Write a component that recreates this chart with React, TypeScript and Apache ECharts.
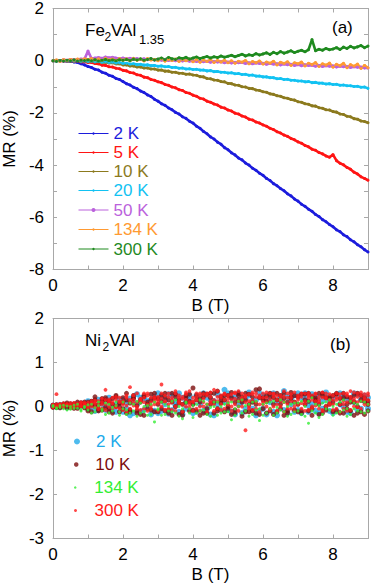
import React, { useEffect, useRef } from "react";
import * as echarts from "echarts";

const FONT = "'Liberation Sans', Arial, sans-serif";
const AXIS_C = "#a8a8a8";

const fieldB = [
  0, 0.1, 0.2, 0.3, 0.4, 0.5, 0.6, 0.7, 0.8, 0.9,
  1, 1.1, 1.2, 1.3, 1.4, 1.5, 1.6, 1.7, 1.8, 1.9,
  2, 2.1, 2.2, 2.3, 2.4, 2.5, 2.6, 2.7, 2.8, 2.9,
  3, 3.1, 3.2, 3.3, 3.4, 3.5, 3.6, 3.7, 3.8, 3.9,
  4, 4.1, 4.2, 4.3, 4.4, 4.5, 4.6, 4.7, 4.8, 4.9,
  5, 5.1, 5.2, 5.3, 5.4, 5.5, 5.6, 5.7, 5.8, 5.9,
  6, 6.1, 6.2, 6.3, 6.4, 6.5, 6.6, 6.7, 6.8, 6.9,
  7, 7.1, 7.2, 7.3, 7.4, 7.5, 7.6, 7.7, 7.8, 7.9,
  8, 8.1, 8.2, 8.3, 8.4, 8.5, 8.6, 8.7, 8.8, 8.9,
  9,
];

// Panel (a): Fe2VAl1.35, MR (%)
const fe2K = [
  0, -0.01, 0.01, -0.01, -0.02, -0.02, -0.05, -0.07, -0.12, -0.16,
  -0.22, -0.26, -0.33, -0.36, -0.44, -0.48, -0.56, -0.6, -0.68, -0.72,
  -0.8, -0.88, -0.93, -1.02, -1.07, -1.16, -1.22, -1.31, -1.37, -1.48,
  -1.55, -1.65, -1.71, -1.81, -1.88, -1.98, -2.04, -2.15, -2.21, -2.32,
  -2.39, -2.51, -2.59, -2.71, -2.8, -2.92, -3.0, -3.12, -3.2, -3.33,
  -3.41, -3.53, -3.61, -3.73, -3.8, -3.92, -4.0, -4.12, -4.2, -4.31,
  -4.39, -4.51, -4.59, -4.71, -4.79, -4.9, -4.98, -5.1, -5.18, -5.3,
  -5.38, -5.5, -5.58, -5.69, -5.77, -5.89, -5.97, -6.09, -6.17, -6.28,
  -6.36, -6.48, -6.55, -6.67, -6.74, -6.86, -6.94, -7.05, -7.13, -7.24,
  -7.33,
];
const fe5K = [
  0, 0.01, -0.01, 0, -0.02, -0.01, -0.03, -0.02, -0.05, -0.04,
  -0.07, -0.07, -0.11, -0.12, -0.17, -0.18, -0.23, -0.24, -0.29, -0.31,
  -0.37, -0.39, -0.45, -0.47, -0.54, -0.56, -0.63, -0.65, -0.72, -0.75,
  -0.81, -0.84, -0.91, -0.94, -1.01, -1.04, -1.11, -1.14, -1.22, -1.25,
  -1.32, -1.36, -1.44, -1.47, -1.55, -1.59, -1.66, -1.7, -1.78, -1.81,
  -1.89, -1.93, -2.01, -2.04, -2.12, -2.16, -2.24, -2.27, -2.35, -2.39,
  -2.46, -2.51, -2.59, -2.64, -2.72, -2.77, -2.85, -2.9, -2.98, -3.03,
  -3.11, -3.16, -3.25, -3.3, -3.39, -3.43, -3.52, -3.57, -3.65, -3.7,
  -3.6, -3.83, -3.93, -3.99, -4.09, -4.16, -4.27, -4.34, -4.45, -4.51,
  -4.58,
];
const fe10K = [
  0, 0.01, -0.01, 0.01, -0.01, 0, -0.02, 0, -0.03, -0.01,
  -0.04, -0.02, -0.05, -0.04, -0.07, -0.06, -0.09, -0.08, -0.12, -0.12,
  -0.16, -0.16, -0.2, -0.2, -0.24, -0.24, -0.28, -0.28, -0.32, -0.32,
  -0.36, -0.36, -0.4, -0.4, -0.44, -0.44, -0.48, -0.48, -0.52, -0.51,
  -0.55, -0.56, -0.61, -0.62, -0.68, -0.69, -0.74, -0.75, -0.8, -0.81,
  -0.87, -0.88, -0.93, -0.94, -1.0, -1.01, -1.06, -1.07, -1.12, -1.14,
  -1.19, -1.21, -1.27, -1.29, -1.34, -1.36, -1.42, -1.44, -1.49, -1.51,
  -1.57, -1.59, -1.65, -1.67, -1.73, -1.74, -1.8, -1.82, -1.88, -1.89,
  -1.95, -1.97, -2.04, -2.06, -2.13, -2.15, -2.22, -2.24, -2.31, -2.33,
  -2.38,
];
const fe20K = [
  0, 0.01, 0, 0.01, -0.01, 0, -0.01, 0, -0.02, -0.01,
  -0.03, -0.02, -0.04, -0.03, -0.06, -0.04, -0.07, -0.06, -0.09, -0.08,
  -0.11, -0.1, -0.13, -0.12, -0.15, -0.14, -0.17, -0.16, -0.19, -0.18,
  -0.21, -0.2, -0.23, -0.22, -0.26, -0.25, -0.29, -0.28, -0.32, -0.31,
  -0.34, -0.33, -0.36, -0.36, -0.39, -0.38, -0.42, -0.41, -0.44, -0.44,
  -0.47, -0.46, -0.5, -0.49, -0.53, -0.52, -0.56, -0.55, -0.59, -0.59,
  -0.62, -0.62, -0.65, -0.65, -0.69, -0.68, -0.72, -0.71, -0.75, -0.75,
  -0.78, -0.78, -0.81, -0.8, -0.84, -0.83, -0.86, -0.86, -0.89, -0.88,
  -0.91, -0.9, -0.94, -0.93, -0.96, -0.96, -0.99, -0.98, -1.02, -1.01,
  -1.06,
];
const fe50K = [
  0, 0.02, 0.01, 0.03, 0.02, 0.04, 0.03, 0.05, 0.06, 0.06,
  0.37, 0.08, 0.1, 0.12, 0.09, 0.14, 0.11, 0.13, 0.1, 0.08,
  0.1, 0.07, 0.09, 0.06, 0.08, 0.05, 0.07, 0.04, 0.06, 0.03,
  0.05, 0.02, 0.04, 0.01, 0.03, 0, 0.02, -0.01, 0.01, -0.02,
  0, -0.03, -0.01, -0.04, -0.02, -0.06, -0.03, -0.05, -0.04, -0.08,
  -0.05, -0.09, -0.06, -0.08, -0.07, -0.11, -0.08, -0.12, -0.09, -0.11,
  -0.1, -0.14, -0.11, -0.13, -0.12, -0.16, -0.13, -0.15, -0.14, -0.18,
  -0.15, -0.19, -0.16, -0.18, -0.17, -0.21, -0.18, -0.22, -0.19, -0.21,
  -0.2, -0.24, -0.21, -0.23, -0.22, -0.26, -0.23, -0.25, -0.24, -0.28,
  -0.28,
];
const fe134K = [
  0, 0.03, -0.02, 0.04, 0.01, 0.05, 0.02, 0.06, 0.03, 0.07,
  0.04, 0.08, 0.03, 0.07, 0.02, 0.09, 0.04, 0.06, 0.01, 0.08,
  0.03, 0.07, 0, 0.09, 0.02, 0.06, -0.01, 0.08, 0.03, 0.05,
  0, 0.07, -0.02, 0.05, 0.01, 0.06, -0.03, 0.04, 0, 0.05,
  -0.04, 0.03, -0.06, 0.02, -0.03, 0.04, -0.07, 0.01, -0.05, 0.02,
  -0.08, 0, -0.1, -0.02, -0.06, 0.01, -0.12, -0.03, -0.08, -0.01,
  -0.13, -0.05, -0.1, -0.02, -0.16, -0.06, -0.11, -0.04, -0.18, -0.08,
  -0.12, -0.05, -0.2, -0.1, -0.15, -0.07, -0.22, -0.12, -0.17, -0.09,
  -0.25, -0.14, -0.19, -0.1, -0.27, -0.15, -0.21, -0.13, -0.3, -0.18,
  -0.27,
];
const fe300K = [
  0, -0.02, 0.01, -0.01, 0.02, 0, 0.03, -0.01, 0.02, 0.01,
  0.03, 0, 0.04, -0.01, 0.02, 0.05, 0.01, 0.03, 0, 0.04,
  0.02, 0.05, 0.01, 0.06, 0.03, 0.07, 0.02, 0.05, 0.08, 0.03,
  0.06, 0.1, 0.04, 0.12, 0.07, 0.05, 0.11, 0.08, 0.13, 0.06,
  0.1, 0.14, 0.08, 0.12, 0.16, 0.1, 0.15, 0.12, 0.18, 0.13,
  0.17, 0.21, 0.15, 0.2, 0.25, 0.18, 0.23, 0.2, 0.27, 0.22,
  0.26, 0.3, 0.24, 0.32, 0.27, 0.35, 0.29, 0.33, 0.38, 0.31,
  0.36, 0.4, 0.34, 0.42, 0.81, 0.38, 0.44, 0.4, 0.47, 0.42,
  0.45, 0.5, 0.43, 0.52, 0.47, 0.55, 0.49, 0.53, 0.58, 0.5,
  0.56,
];

// Panel (b): Ni2VAl, MR (%) — several sweeps per temperature
const ni2Ka = [
  0, 0.02, -0.01, 0.03, 0.01, 0.04, 0, 0.05, 0.02, 0.06,
  -0.05, 0.08, 0.03, -0.08, 0.1, 0, 0.12, -0.1, 0.05, 0.15,
  -0.12, 0.08, 0.18, -0.15, 0.05, 0.2, -0.08, 0.12, -0.18, 0.22,
  0.3, -0.1, 0.15, -0.16, 0.25, 0.02, -0.12, 0.2, -0.05, 0.18,
  -0.15, 0.25, 0.05, -0.1, 0.2, -0.18, 0.12, 0.28, -0.08, 0.38,
  0.3, -0.12, 0.22, 0.05, -0.15, 0.18, 0.32, -0.05, 0.15, -0.1,
  0.25, -0.18, 0.1, 0.3, -0.2, 0.15, -0.08, 0.22, 0.05, -0.12,
  0.3, -0.15, 0.18, 0.02, 0.28, -0.1, 0.2, -0.05, 0.32, 0.12,
  -0.15, 0.25, 0.05, 0.22, -0.12, 0.18, 0.3, -0.08, 0.15, 0.25,
  0.2,
];
const ni2Kb = [
  0.02, -0.01, 0.04, 0.01, -0.02, 0.05, 0.02, -0.01, 0.07, 0.03,
  0.12, -0.02, -0.1, 0.15, 0.06, -0.08, 0.2, 0.03, -0.12, 0.08,
  0.15, -0.05, -0.2, 0.1, 0.28, -0.12, 0.18, 0.02, 0.15, -0.1,
  -0.15, 0.22, 0.05, 0.28, -0.08, 0.12, 0.3, -0.18, 0.1, 0.25,
  0.08, -0.12, 0.2, 0.3, -0.05, 0.15, -0.2, 0.05, 0.22, 0.1,
  -0.08, 0.2, -0.18, 0.3, 0.1, -0.05, 0.25, 0.12, -0.2, 0.3,
  -0.05, 0.15, 0.28, -0.12, 0.1, 0.22, 0.35, -0.15, 0.18, 0.25,
  -0.08, 0.2, 0.3, -0.12, 0.05, 0.25, -0.15, 0.12, 0.2, -0.1,
  0.2, -0.1, 0.3, 0, 0.15, -0.15, 0.1, 0.28, -0.05, 0.12,
  -0.05,
];
const ni10Ka = [
  0.01, -0.02, 0.03, 0, 0.05, -0.02, 0.06, 0.02, 0.08, -0.03,
  0.1, -0.12, 0.22, 0.05, -0.08, 0.15, -0.05, 0.18, 0, -0.12,
  0.2, -0.15, 0.08, 0.25, -0.1, 0.15, -0.2, 0.05, 0.28, -0.12,
  0.18, -0.05, 0.3, -0.15, 0.1, 0.22, -0.18, 0.05, 0.25, -0.1,
  0.42, 0.15, -0.2, 0.3, -0.05, 0.2, -0.15, 0.35, 0.08, -0.12,
  0.25, -0.18, 0.1, 0.3, -0.22, 0.15, 0.05, -0.1, 0.38, 0.4,
  0.2, -0.15, 0.3, 0.05, -0.12, 0.25, -0.2, 0.1, 0.32, -0.08,
  0.22, -0.15, 0.15, 0.3, -0.05, 0.2, -0.18, 0.25, 0, 0.18,
  -0.12, 0.28, 0.05, -0.15, 0.22, 0.1, -0.2, 0.3, 0.15, -0.18,
  0.05,
];
const ni10Kb = [
  -0.02, 0.04, 0, 0.06, -0.03, 0.05, 0.01, -0.04, 0.07, 0.1,
  -0.06, 0.12, 0.02, -0.1, 0.18, -0.02, 0.12, -0.15, 0.22, 0.08,
  -0.05, 0.15, -0.12, 0.2, 0.02, -0.18, 0.25, 0.1, -0.08, 0.2,
  0.05, 0.25, -0.1, 0.15, -0.2, 0.28, 0.08, -0.12, 0.2, 0.12,
  -0.08, 0.25, 0.1, -0.15, 0.28, 0.05, 0.3, -0.1, 0.22, 0.15,
  -0.05, 0.2, -0.15, 0.25, 0.1, 0.3, -0.12, 0.22, 0.05, -0.18,
  0.15, 0.25, -0.1, 0.2, 0.3, -0.05, 0.18, -0.15, 0.22, 0.1,
  -0.12, 0.28, 0.05, -0.1, 0.22, 0.12, 0.3, -0.15, 0.2, 0.05,
  0.25, -0.1, 0.18, 0.3, -0.05, 0.2, 0.1, -0.15, 0.25, 0.12,
  -0.1,
];
const ni10Kc = [
  0.03, 0, -0.03, 0.04, 0.08, 0, -0.04, 0.1, 0.02, 0.06,
  -0.1, 0.05, 0.15, -0.06, 0.1, 0.2, -0.12, 0.05, 0.25, 0,
  0.1, 0.3, -0.08, 0.18, -0.15, 0.1, 0.22, -0.05, 0.15, 0.3,
  -0.12, 0.12, 0.2, -0.08, 0.3, 0, 0.15, -0.2, 0.1, 0.28,
  0.05, -0.1, 0.18, 0.22, -0.15, 0.3, 0.1, -0.05, 0.15, 0.25,
  0, 0.32, -0.08, 0.15, 0.22, -0.12, 0.28, 0.1, -0.15, 0.2,
  -0.05, 0.12, 0.22, -0.18, 0.15, 0.05, 0.3, -0.1, 0.18, 0.25,
  0.05, -0.1, 0.28, 0.12, -0.2, 0.15, 0.05, 0.3, -0.08, 0.22,
  0.1, 0.3, -0.15, 0.2, 0.05, -0.1, 0.25, 0, -0.12, 0.2,
  0.12,
];
const ni134Ka = [
  0, -0.03, 0.02, -0.05, 0.01, -0.06, 0.03, -0.04, -0.07, 0,
  -0.08, 0.05, -0.12, 0.02, -0.1, 0.08, -0.15, -0.02, 0.1, -0.12,
  -0.05, -0.18, 0.08, -0.1, 0.12, -0.15, 0, -0.2, 0.05, -0.35,
  -0.08, 0.1, -0.18, 0, -0.12, 0.15, -0.22, -0.05, 0.08, -0.15,
  -0.25, 0.05, -0.1, 0.12, -0.18, -0.02, 0.1, -0.2, 0, -0.12,
  0.08, -0.3, -0.05, 0.12, -0.15, 0.02, -0.22, 0.1, -0.08, -0.32,
  0.05, -0.15, 0.1, -0.2, -0.02, 0.15, -0.12, 0, -0.18, 0.08,
  -0.1, 0.12, -0.22, -0.38, 0.2, -0.15, 0.02, -0.18, 0.1, -0.08,
  -0.2, 0.05, -0.12, 0.15, -0.05, -0.18, 0.08, -0.1, 0.12, -0.15,
  0.05,
];
const ni134Kb = [
  0.02, -0.05, -0.02, 0.03, -0.08, 0, -0.04, 0.05, -0.1, -0.02,
  0.04, -0.15, -0.03, 0.1, -0.06, -0.18, 0.05, -0.1, 0.02, -0.2,
  0.1, -0.08, -0.15, 0.05, -0.22, 0.08, -0.12, 0.02, -0.18, 0.1,
  -0.05, -0.2, 0.05, -0.1, 0.12, -0.15, 0, -0.28, 0.1, -0.05,
  0.02, -0.15, 0.15, -0.08, 0.05, -0.22, 0, 0.1, -0.15, 0.05,
  -0.12, 0.1, -0.2, 0, 0.15, -0.1, 0.05, -0.18, 0.12, -0.05,
  -0.2, 0.08, -0.05, 0.12, -0.15, -0.08, 0.1, -0.22, 0.05, -0.12,
  0.08, -0.18, 0, 0.12, -0.1, 0.05, -0.25, 0.08, -0.05, 0.15,
  0, -0.15, 0.1, -0.08, -0.22, 0.12, -0.05, 0.05, -0.12, 0.1,
  -0.1,
];
const ni300Ka = [
  0, 0.28, 0.02, -0.02, 0.05, 0, 0.04, 0.07, 0.02, 0.06,
  0.03, 0.08, -0.02, 0.12, 0.05, 0.38, 0, 0.1, 0.15, -0.05,
  0.12, 0.02, 0.44, 0.08, -0.05, 0.18, 0.1, -0.1, 0.2, 0.05,
  0.15, 0.5, -0.08, 0.22, 0.1, 0, 0.25, -0.12, 0.15, 0.05,
  0.2, -0.05, 0.3, 0.1, -0.12, 0.22, 0.05, 0.35, -0.08, 0.15,
  0.25, 0, 0.18, -0.1, 0.3, -0.54, 0.12, 0.28, -0.05, 0.2,
  0.1, 0.32, -0.08, 0.22, 0.05, 0.18, -0.12, 0.3, 0.12, 0,
  0.25, 0.08, -0.1, 0.3, 0.15, 0.02, 0.22, -0.08, 0.18, 0.28,
  0.05, 0.2, -0.12, 0.3, 0.1, 0.35, 0, 0.22, 0.32, 0.15,
  0.25,
];
const ni300Kb = [
  0.03, -0.01, 0.05, 0.02, 0.06, 0.03, 0, 0.05, 0.08, 0.03,
  0.09, 0, 0.1, 0.04, -0.05, 0.15, 0.08, 0.2, 0.02, 0.12,
  -0.08, 0.2, 0.1, 0.25, 0, 0.15, 0.3, 0.05, -0.05, 0.22,
  0.08, 0.3, 0.12, -0.05, 0.2, 0.35, 0.08, 0.18, 0.28, -0.02,
  0.12, 0.3, 0, 0.18, 0.25, 0.08, 0.38, 0.12, 0.2, -0.05,
  0.1, 0.28, 0.05, 0.35, 0.15, 0.22, 0, 0.32, 0.1, 0.25,
  0.05, 0.2, 0.3, 0, 0.25, 0.12, 0.35, -0.05, 0.2, 0.1,
  0.15, 0.3, 0.05, 0.2, -0.05, 0.28, 0.1, 0.32, 0, 0.15,
  0.25, -0.05, 0.2, 0.12, 0.3, -0.08, 0.18, 0.1, 0.25, 0.05,
  0.15,
];
const ni300Kc = [
  -0.02, 0.05, 0, 0.07, 0.03, -0.03, 0.08, 0.01, 0.1, 0.05,
  0, 0.12, 0.06, -0.06, 0.18, 0.05, 0.12, -0.05, 0.22, 0.1,
  0.05, -0.12, 0.15, 0.02, 0.3, 0.12, -0.05, 0.25, 0.1, 0.18,
  -0.1, 0.18, 0.25, 0.05, -0.08, 0.3, 0.12, 0.22, 0, 0.35,
  0.1, 0.22, -0.1, 0.28, 0.05, 0.32, 0.15, -0.05, 0.25, 0.3,
  0.05, 0.15, 0.32, 0, 0.2, 0.1, 0.28, -0.08, 0.22, 0.05,
  0.3, 0, 0.15, 0.28, -0.1, 0.25, 0.1, 0.2, -0.05, 0.32,
  0.05, 0.22, 0.3, -0.08, 0.25, 0.12, -0.05, 0.2, 0.3, 0.08,
  0.15, 0.3, 0.05, -0.05, 0.25, 0.15, 0.32, -0.02, 0.12, 0.28,
  0.05,
];
const ni300Kd = [
  0.04, 0, 0.06, -0.01, 0.03, 0.08, -0.02, 0.04, 0, 0.09,
  -0.04, 0.06, 0.14, 0, 0.1, -0.08, 0.16, 0.06, -0.02, 0.2,
  0.08, 0.25, -0.05, 0.15, 0.1, -0.08, 0.2, 0.3, 0.02, 0.12,
  0.22, 0, 0.1, 0.3, 0.15, -0.1, 0.2, 0.05, 0.32, 0.1,
  -0.1, 0.15, 0.25, 0, 0.3, 0.12, -0.1, 0.22, 0.05, 0.28,
  0.18, -0.1, 0.3, 0.12, 0, 0.25, -0.05, 0.15, 0.3, -0.12,
  0.2, 0.1, -0.05, 0.3, 0.15, 0, 0.22, 0.05, 0.28, -0.1,
  0.2, -0.05, 0.12, 0.25, 0, 0.3, 0.15, -0.1, 0.22, 0.05,
  -0.08, 0.15, 0.28, 0.05, -0.1, 0.22, 0.12, 0.3, -0.05, 0.2,
  0.3,
];

const topSeries = [
  { name: "2 K", values: fe2K, color: "#1c1cdc" },
  { name: "5 K", values: fe5K, color: "#ff1414" },
  { name: "10 K", values: fe10K, color: "#8c7a1e" },
  { name: "20 K", values: fe20K, color: "#12c2f2" },
  { name: "50 K", values: fe50K, color: "#bb62dc" },
  { name: "134 K", values: fe134K, color: "#ff9a32" },
  { name: "300 K", values: fe300K, color: "#1f8a1f" },
];
const topLegendY = [134, 153, 172, 191, 210.5, 230, 249.5];

// legend order (b)
const botSeries = [
  { name: "2 K ", values: [ni2Ka, ni2Kb], color: "#22aaea", size: 6, legendDot: 6, legendY: 442 },
  { name: "10 K ", values: [ni10Ka, ni10Kb, ni10Kc], color: "#7c0c0c", size: 5, legendDot: 4.5, legendY: 465 },
  { name: "134 K ", values: [ni134Ka, ni134Kb], color: "#33ee33", size: 3, legendDot: 2.5, legendY: 488 },
  { name: "300 K ", values: [ni300Ka, ni300Kb, ni300Kc, ni300Kd], color: "#ff1a1a", size: 3.8, legendDot: 3, legendY: 511 },
];
// drawing order (b): bottom to top
const botDrawOrder = [0, 1, 3, 2];

const evenOnly = (v: number) => (Math.round(v) % 2 === 0 ? String(v) : "");

function makeX(grid: number, bottom: boolean) {
  return {
    type: "value",
    gridIndex: grid,
    position: bottom ? "bottom" : "top",
    min: 0,
    max: 9,
    interval: 1,
    axisLine: { show: true, onZero: false, lineStyle: { color: AXIS_C, width: 1 } },
    axisTick: { show: true, inside: true, length: 4, lineStyle: { color: AXIS_C } },
    axisLabel: bottom
      ? { show: true, formatter: evenOnly, color: "#000", fontSize: 17, fontFamily: FONT, margin: 7 }
      : { show: false },
    splitLine: { show: false },
    name: bottom ? "B (T)" : "",
    nameLocation: "middle",
    nameGap: 27,
    nameTextStyle: { color: "#000", fontSize: 17, fontFamily: FONT },
  };
}
function makeY(grid: number, left: boolean, min: number, max: number, even: boolean) {
  return {
    type: "value",
    gridIndex: grid,
    position: left ? "left" : "right",
    min,
    max,
    interval: 1,
    axisLine: { show: true, onZero: false, lineStyle: { color: AXIS_C, width: 1 } },
    axisTick: { show: true, inside: true, length: 4, lineStyle: { color: AXIS_C } },
    axisLabel: left
      ? {
          show: true,
          formatter: even ? evenOnly : (v: number) => String(v),
          color: "#000",
          fontSize: 17,
          fontFamily: FONT,
          margin: 9,
        }
      : { show: false },
    splitLine: { show: false },
    name: left ? "MR (%)" : "",
    nameLocation: "middle",
    nameGap: 35,
    nameTextStyle: { color: "#000", fontSize: 17, fontFamily: FONT },
  };
}

function txt(text: string, x: number, y: number, size: number) {
  return { type: "text", x, y, style: { text, fontSize: size, fontFamily: FONT, fill: "#000" } };
}

export default function App() {
  const ref = useRef<HTMLDivElement>(null);
  useEffect(() => {
    document.body.style.margin = "0";
    if (!ref.current) return;
    const chart = echarts.init(ref.current, undefined, { renderer: "svg" });

    const series: any[] = [];
    topSeries.forEach((s) => {
      series.push({
        type: "line",
        name: s.name,
        xAxisIndex: 0,
        yAxisIndex: 0,
        data: fieldB.map((b, i) => [b, s.values[i]]),
        symbol: "circle",
        symbolSize: 3,
        showSymbol: true,
        lineStyle: { color: s.color, width: 2.6 },
        itemStyle: { color: s.color },
        silent: true,
      });
    });
    botDrawOrder.forEach((k) => {
      const s = botSeries[k];
      const data: number[][] = [];
      s.values.forEach((arr) => fieldB.forEach((b, i) => data.push([b, arr[i]])));
      series.push({
        type: "scatter",
        name: s.name,
        xAxisIndex: 2,
        yAxisIndex: 2,
        data,
        symbol: "circle",
        symbolSize: s.size,
        itemStyle: { color: s.color },
        silent: true,
      });
    });

    const legends: any[] = [];
    topSeries.forEach((s, i) => {
      legends.push({
        data: [s.name],
        orient: "vertical",
        left: 78,
        top: topLegendY[i] - 9,
        padding: 0,
        itemWidth: 30,
        itemHeight: s.name === "50 K" ? 5 : 3,
        selectedMode: false,
        lineStyle: { width: 1 },
        textStyle: { color: s.color, fontSize: 17, fontFamily: FONT },
      });
    });
    botSeries.forEach((s) => {
      legends.push({
        data: [s.name],
        orient: "vertical",
        left: 74,
        top: s.legendY - 9,
        padding: 0,
        itemWidth: 28,
        itemHeight: s.legendDot,
        selectedMode: false,
        textStyle: { color: s.color, fontSize: 17, fontFamily: FONT },
      });
    });

    const option: any = {
      animation: false,
      textStyle: { fontFamily: FONT },
      grid: [
        { left: 53, top: 8.5, width: 315, height: 261, containLabel: false, outerBoundsMode: "none" },
        { left: 53, top: 318.5, width: 315, height: 220, containLabel: false, outerBoundsMode: "none" },
      ],
      xAxis: [makeX(0, true), makeX(0, false), makeX(1, true), makeX(1, false)],
      yAxis: [
        makeY(0, true, -8, 2, true),
        makeY(0, false, -8, 2, true),
        makeY(1, true, -3, 2, false),
        makeY(1, false, -3, 2, false),
      ],
      legend: legends,
      graphic: [
        txt("Fe", 85, 22, 17),
        txt("2", 104.5, 31, 12),
        txt("VAl", 111, 22, 17),
        txt("1.35", 139, 33, 13),
        txt("(a)", 332, 19, 17),
        txt("Ni", 85, 332, 17),
        txt("2", 102.5, 341, 12),
        txt("VAl", 109.5, 332, 17),
        txt("(b)", 330, 336, 17),
      ],
      series,
    };
    chart.setOption(option);
    return () => chart.dispose();
  }, []);
  return <div ref={ref} style={{ width: 374, height: 586 }} />;
}
